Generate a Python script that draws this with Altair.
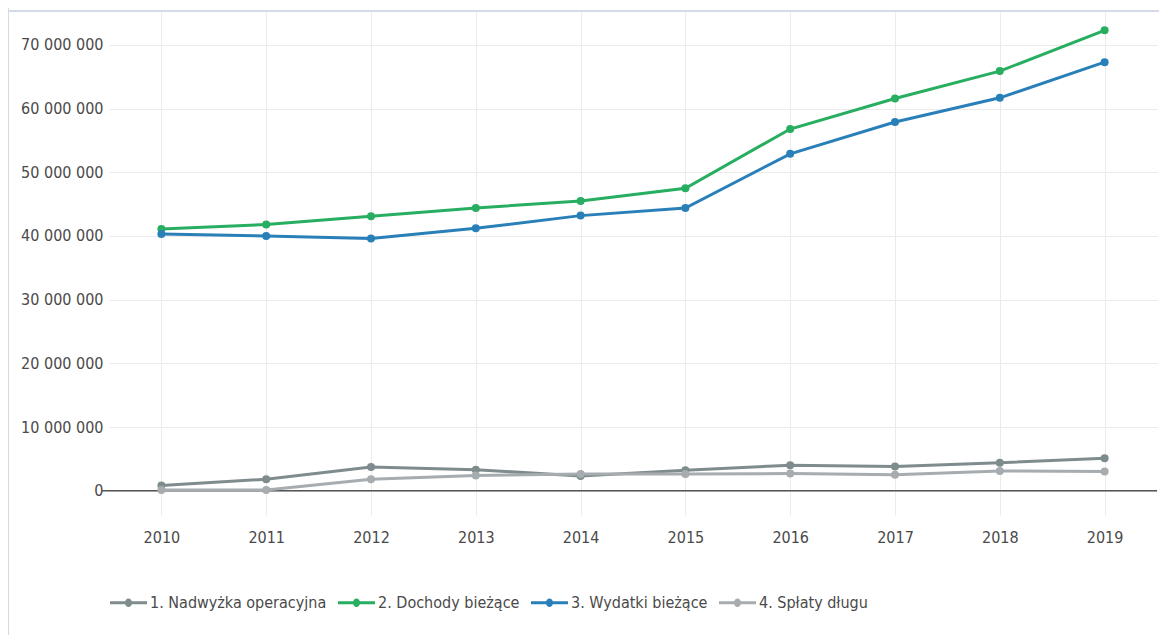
import altair as alt
import pandas as pd

years = ["2010", "2011", "2012", "2013", "2014", "2015", "2016", "2017", "2018", "2019"]
series_names = ["1. Nadwyżka operacyjna", "2. Dochody bieżące", "3. Wydatki bieżące", "4. Spłaty długu"]
nadwyzka = [800000, 1800000, 3700000, 3300000, 2300000, 3200000, 4000000, 3800000, 4400000, 5100000]
dochody = [41100000, 41800000, 43100000, 44400000, 45500000, 47500000, 56800000, 61600000, 65900000, 72300000]
wydatki = [40300000, 40000000, 39600000, 41200000, 43200000, 44400000, 52900000, 57900000, 61700000, 67300000]
splaty = [100000, 100000, 1800000, 2400000, 2600000, 2600000, 2700000, 2500000, 3100000, 3000000]
colors = ["#7f8c8d", "#27ae60", "#2980b9", "#a6acaf"]
y_ticks = [0, 10000000, 20000000, 30000000, 40000000, 50000000, 60000000, 70000000]

rows = []
for name, vals in zip(series_names, [nadwyzka, dochody, wydatki, splaty]):
    for yr, v in zip(years, vals):
        rows.append({"rok": yr, "seria": name, "wartosc": v})
df = pd.DataFrame(rows)

FONT = "DejaVu Sans Condensed, Liberation Sans, sans-serif"
FS = 16
TXT = "#4a4a4a"
W, H = 1048, 503

x_enc = alt.X("rok:O", scale=alt.Scale(type="point", padding=0.5),
              axis=alt.Axis(title=None, labelAngle=0, domain=False, ticks=False,
                            labelPadding=14, grid=True, gridColor="#ebebeb",
                            labelFont=FONT, labelFontSize=FS, labelColor=TXT))
y_enc = alt.Y("wartosc:Q", scale=alt.Scale(domain=[-3820000, 75180000], nice=False, zero=False),
              axis=alt.Axis(title=None, values=y_ticks, domain=False, ticks=False,
                            labelPadding=6, grid=True, gridColor="#ebebeb",
                            labelExpr="replace(format(datum.value, ','), regexp(',', 'g'), ' ')",
                            labelFont=FONT, labelFontSize=FS, labelColor=TXT))
color_scale = alt.Scale(domain=series_names, range=colors)

legend_path = ("M-1,-0.08 L1,-0.08 L1,0.08 L-1,0.08 Z "
               "M0.19,0 A0.19,0.23 0 1,1 -0.19,0 A0.19,0.23 0 1,1 0.19,0 Z")

base = alt.Chart(df)

border_left = alt.Chart(pd.DataFrame({"k": [0]})).mark_rule(color="#d3dbe8", strokeWidth=2).encode(
    x=alt.value(-101), y=alt.value(-4), y2=alt.value(630))
border_top = alt.Chart(pd.DataFrame({"k": [0]})).mark_rule(color="#d3dbe8", strokeWidth=2).encode(
    x=alt.value(-101), x2=alt.value(1060), y=alt.value(-1))
zero_line = alt.Chart(pd.DataFrame({"v": [0]})).mark_rule(color="#555555", strokeWidth=1.5).encode(
    y="v:Q", x=alt.value(-7), x2=alt.value(W))

lines = base.mark_line(strokeWidth=3).encode(
    x=x_enc, y=y_enc,
    color=alt.Color("seria:N", scale=color_scale, legend=None))
points = base.mark_point(filled=True, size=64, opacity=1).encode(
    x=x_enc, y=y_enc,
    color=alt.Color("seria:N", scale=color_scale,
                    legend=alt.Legend(title=None, orient="none", direction="horizontal",
                                      legendX=1, legendY=572, symbolType=legend_path,
                                      symbolSize=1369, symbolStrokeWidth=0, symbolOpacity=1,
                                      labelOffset=3, columnPadding=11, labelFont=FONT,
                                      labelFontSize=FS, labelColor=TXT, labelLimit=400)))

chart = alt.layer(border_left, border_top, zero_line, lines, points).resolve_legend(
    color="independent"
).properties(
    width=W, height=H,
    autosize=alt.AutoSizeParams(type="none"),
    padding={"left": 101, "top": 4, "right": 2, "bottom": 120},
    background="white",
).configure_view(stroke=None)

chart.save("out.html", embed_options={"renderer": "svg", "actions": False})
